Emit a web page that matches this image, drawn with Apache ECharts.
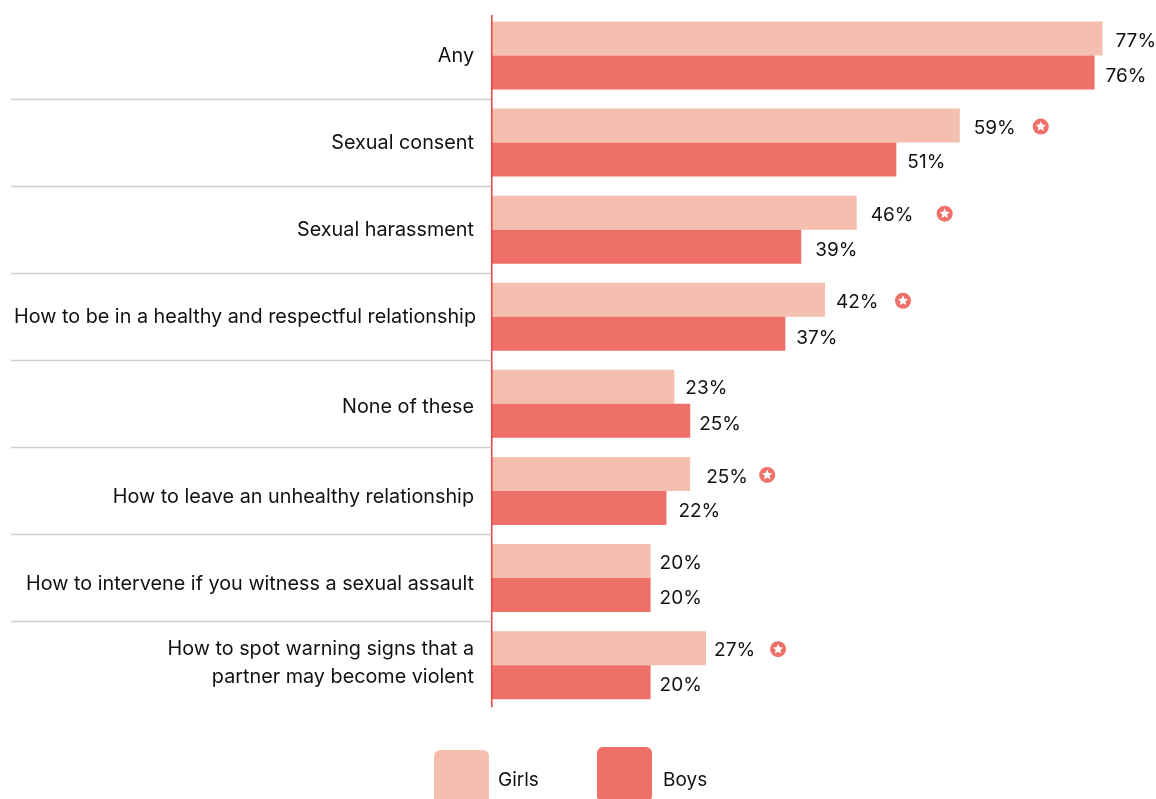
<!DOCTYPE html>
<html>
<head>
<meta charset="utf-8">
<style>html,body{margin:0;padding:0;background:#fff}#chart{width:1156px;height:799px}</style>
<script src="https://cdn.jsdelivr.net/npm/echarts@6/dist/echarts.min.js"></script>
</head>
<body>
<div id="chart"></div>
<script>
// Share of teens who were taught each topic, by gender
const categories = [
  'Any',
  'Sexual consent',
  'Sexual harassment',
  'How to be in a healthy and respectful relationship',
  'None of these',
  'How to leave an unhealthy relationship',
  'How to intervene if you witness a sexual assault',
  'How to spot warning signs that a\npartner may become violent'
];
const girls = [77, 59, 46, 42, 23, 25, 20, 27];
const boys = [76, 51, 39, 37, 25, 22, 20, 20];
// Categories where the gender gap is marked as significant
const significant = [1, 2, 3, 5, 7];

// Hand-tuned label placement
const girlLabelGap = [12, 13, 13, 10, 10, 15, 8, 7];
const boyLabelGap = [10, 10, 13, 10, 8, 11, 8, 8];
const girlLabelDrop = [3, 3, 3, 3, 1, 3, 2, 2];
const boyLabelDrop = [4, 3, 4, 5, 3, 3, 3, 3];
const badgeGap = { 1: 81, 2: 88, 3: 78, 5: 77, 7: 72 };

const FONT = 'Inter';
const PEACH = '#F4BFAE';
const CORAL = '#EF6F69';
const INK = '#111111';
const swatch = 'path://M6 0H49A6 6 0 0 1 55 6V49A6 6 0 0 1 49 55H6A6 6 0 0 1 0 49V6A6 6 0 0 1 6 0Z';

function catStyle(padding, lineHeight) {
  return { fontFamily: FONT, fontSize: 19.8, color: INK, padding, lineHeight };
}
// One rich style per row, nudging each label off its band centre
const categoryStyles = {
  r0: catStyle([2, 2, 0, 0], 29),
  r1: catStyle([2, 2, 0, 0], 29),
  r2: catStyle([0, 2, 0, 0], 29),
  r3: catStyle([1, 0, 0, 0], 29),
  r4: catStyle([6, 2, 0, 0], 29),
  r5: catStyle([13, 2, 0, 0], 29),
  r6: catStyle([13, 2, 0, 0], 29),
  r7: catStyle([0, 2, 4, 0], 28)
};

function barData(values, gaps, drops) {
  return values.map((v, i) => ({ value: v, label: { distance: gaps[i], offset: [1, drops[i]] } }));
}

function barSeries(name, values, gaps, drops, color) {
  return {
    name, type: 'bar', barWidth: 34, barGap: 0, silent: true,
    itemStyle: { color },
    label: {
      show: true, position: 'right', formatter: '{c}%',
      fontFamily: FONT, fontSize: 19, color: INK
    },
    data: barData(values, gaps, drops)
  };
}

function legendBlock(name, left, top, textTop, textLeft) {
  return {
    data: [name], left, top, padding: 0, orient: 'horizontal', selectedMode: false,
    icon: swatch, itemWidth: 55, itemHeight: 55, itemGap: 0,
    formatter: '{t|{name}}',
    textStyle: {
      rich: { t: { fontFamily: FONT, fontSize: 19, color: INK, padding: [textTop, 0, 0, textLeft] } }
    }
  };
}

const chart = echarts.init(document.getElementById('chart'), null, { renderer: 'canvas' });
chart.setOption({
  animation: false,
  backgroundColor: '#fff',
  grid: { left: 492, top: 11.9, width: 666, height: 696.8, containLabel: false, outerBoundsMode: 'none' },
  legend: [legendBlock('Girls', 434, 750, 6, 4), legendBlock('Boys', 597, 747, 12, 6)],
  xAxis: { type: 'value', min: 0, max: 84, show: false },
  yAxis: {
    type: 'category', inverse: true,
    data: categories,
    axisLine: { show: false },
    axisTick: { show: false },
    axisLabel: {
      margin: 16, interval: 0, align: 'right',
      fontFamily: FONT, fontSize: 19.8, color: INK,
      rich: categoryStyles,
      formatter(value, index) {
        return value.split('\n').map(line => `{r${index}|${line}}`).join('\n');
      }
    }
  },
  series: [
    barSeries('Girls', girls, girlLabelGap, girlLabelDrop, PEACH),
    barSeries('Boys', boys, boyLabelGap, boyLabelDrop, CORAL),
    {
      // Row separators running left from the axis, plus the axis itself
      type: 'custom', silent: true, clip: false, z: 5,
      data: categories.map((c, i) => [0, i]),
      encode: { x: 0, y: 1 },
      renderItem(params, api) {
        const i = api.value(1);
        const p = api.coord([0, i]);
        const band = api.size([0, 1])[1];
        const children = [];
        if (i < categories.length - 1) {
          const y = Math.round(p[1] + band / 2 - 0.1) + 0.5;
          children.push({
            type: 'line',
            shape: { x1: 11, y1: y, x2: p[0] - 1, y2: y },
            style: { stroke: '#CFCFCF', lineWidth: 1.4 }
          });
        }
        const top = i === 0 ? p[1] - band / 2 + 3.1 : p[1] - band / 2;
        const bottom = i === categories.length - 1 ? p[1] + band / 2 - 1.4 : p[1] + band / 2;
        children.push({
          type: 'line',
          shape: { x1: p[0] - 0.25, y1: top, x2: p[0] - 0.25, y2: bottom },
          style: { stroke: '#E04B4B', lineWidth: 1.6 }
        });
        return { type: 'group', children };
      }
    },
    {
      // Star badges flagging the significant gaps, placed after the girls' labels
      type: 'custom', silent: true, clip: false, z: 6,
      data: significant.map(i => [girls[i], i]),
      encode: { x: 0, y: 1 },
      renderItem(params, api) {
        const i = api.value(1);
        const p = api.coord([api.value(0), i]);
        const cx = p[0] + badgeGap[i];
        const cy = p[1] - 16;
        const pts = [];
        for (let k = 0; k < 10; k++) {
          const r = k % 2 ? 2.5 : 5.4;
          const a = -Math.PI / 2 + k * Math.PI / 5;
          pts.push([cx + r * Math.cos(a), cy + r * Math.sin(a)]);
        }
        return {
          type: 'group',
          children: [
            { type: 'circle', shape: { cx, cy, r: 8 }, style: { fill: CORAL } },
            { type: 'polygon', shape: { points: pts }, style: { fill: '#fff' } }
          ]
        };
      }
    }
  ]
});
</script>
</body>
</html>
